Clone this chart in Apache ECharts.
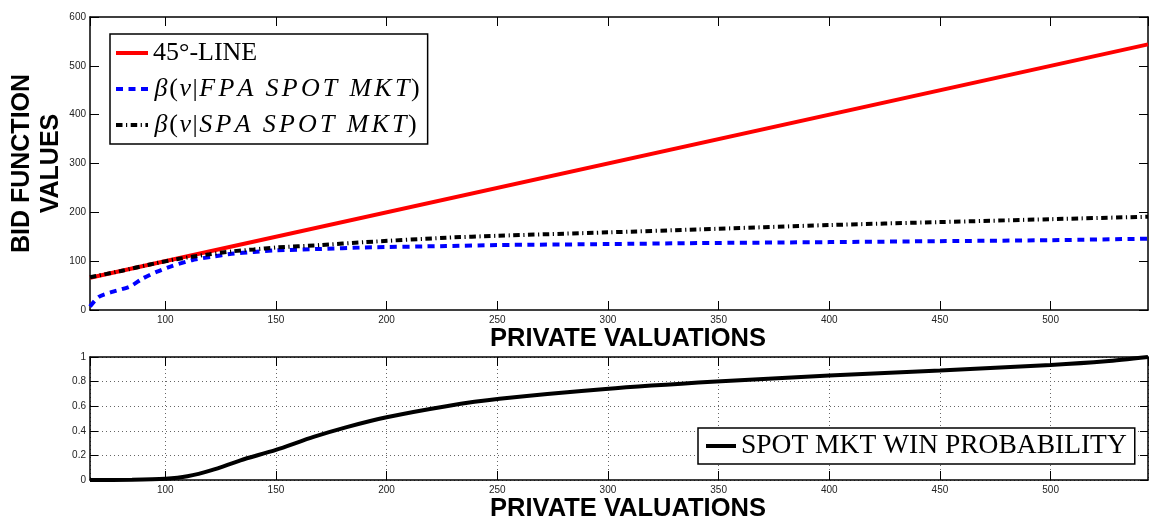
<!DOCTYPE html>
<html>
<head>
<meta charset="utf-8">
<script src="https://cdn.jsdelivr.net/npm/echarts@6.0.0/dist/echarts.min.js"></script>
<style>
  html, body { margin: 0; padding: 0; background: #fff; }
  #main { width: 1149px; height: 518px; }
</style>
</head>
<body>
<div id="main"></div>
<script>
// x range of both panels
const vMin = 66;
const vMax = 544;

// 45 degree line
const lineV   = [66, 544];
const lineBid = [66, 544];

// beta(v | FPA spot mkt)
const fpaV   = [66, 70, 76, 84, 90, 96, 103, 112, 121, 130, 140, 150, 170, 190, 227, 250, 300, 341, 400, 450, 500, 544];
const fpaBid = [7, 27, 37, 48, 65, 78, 90, 102, 109, 115, 119, 122, 125, 128, 131, 133, 135, 137, 139, 141, 143, 146];

// beta(v | SPA spot mkt)
const spaV   = [66, 80, 95, 105, 112, 120, 130, 140, 150, 170, 190, 227, 250, 300, 341, 400, 450, 500, 544];
const spaBid = [67, 80, 95, 104, 109, 114, 120, 124, 128, 133, 139, 148, 152, 159, 165, 174, 180, 186, 191];

// spot market win probability
const winV    = [66, 85, 100, 110, 121, 134, 150, 167, 182, 200, 227, 251, 299, 349, 400, 450, 500, 525, 544];
const winProb = [0, 0.002, 0.01, 0.03, 0.08, 0.16, 0.245, 0.35, 0.43, 0.51, 0.60, 0.66, 0.74, 0.80, 0.85, 0.89, 0.935, 0.965, 1.0];

const names = ['45°-LINE', 'β(v|FPA SPOT MKT)', 'β(v|SPA SPOT MKT)', 'SPOT MKT WIN PROBABILITY'];

function zip(xs, ys) {
  return xs.map((x, i) => [x, ys[i]]);
}

// legend text: math-style italic letters, upright brackets
function legendText(name) {
  if (name === names[0]) return '{r|' + name + '}';
  if (name === names[3]) return '{u|' + name + '}';
  let out = '';
  for (const c of name) {
    if ('()|'.indexOf(c) >= 0) out += '{r|' + c + '}';
    else if (c === ' ') out += '{sp| }';
    else out += '{i|' + c + '}';
  }
  return out;
}

const serif = '"Liberation Serif", "DejaVu Serif", serif';
const sans = '"Liberation Sans", Arial, sans-serif';

const legendRich = {
  r:  { fontFamily: serif, fontSize: 26, color: '#000' },
  u:  { fontFamily: serif, fontSize: 27.5, color: '#000' },
  i:  { fontFamily: serif, fontSize: 26, fontStyle: 'italic', color: '#000', padding: [0, 1.6, 0, 1.6] },
  sp: { fontFamily: serif, fontSize: 26, width: 9 }
};

const axisLine = { show: true, onZero: false, lineStyle: { color: '#000', width: 1.5 } };

function xAx(grid, pos, labels, name, gap, split) {
  return {
    type: 'value', gridIndex: grid, position: pos,
    min: vMin, max: vMax, splitNumber: 10, minInterval: 50, maxInterval: 50,
    axisLine: axisLine,
    axisTick: { show: true, inside: true, length: 9, lineStyle: { color: '#000', width: 1 } },
    axisLabel: { show: labels, showMinLabel: false, showMaxLabel: false, margin: 5,
                 fontFamily: sans, fontSize: 10, color: '#222' },
    splitLine: { show: split, lineStyle: { color: '#666', width: 1, type: [1, 3] } },
    name: name, nameLocation: 'middle', nameGap: gap, nameMoveOverlap: false,
    nameTextStyle: { fontFamily: sans, fontWeight: 'bold', fontSize: 25.5, color: '#000', padding: [0, 0, 0, 18] }
  };
}

function yAx(grid, pos, labels, max, interval, split, name) {
  return {
    type: 'value', gridIndex: grid, position: pos,
    min: 0, max: max, interval: interval,
    axisLine: axisLine,
    axisTick: { show: true, inside: true, length: grid === 0 ? 9 : 8, lineStyle: { color: '#000', width: 1 } },
    axisLabel: { show: labels, margin: 4, fontFamily: sans, fontSize: 10, color: '#222' },
    splitLine: { show: split, lineStyle: { color: '#666', width: 1, type: [1, 3] } },
    name: name || '', nameLocation: 'middle', nameRotate: 90, nameGap: 24, nameMoveOverlap: false,
    nameTextStyle: { fontFamily: sans, fontWeight: 'bold', fontSize: 25, lineHeight: 29, color: '#000' }
  };
}

const legendBase = {
  orient: 'vertical',
  backgroundColor: '#fff', borderColor: '#000', borderWidth: 1.5,
  itemStyle: { color: 'rgba(0,0,0,0)', borderWidth: 0 },
  lineStyle: { width: 4 },
  formatter: legendText,
  textStyle: { rich: legendRich }
};

const chart = echarts.init(document.getElementById('main'));
chart.setOption({
  animation: false,
  backgroundColor: '#fff',
  grid: [
    { left: 90, right: 1, top: 17, height: 293, outerBoundsMode: 'none', containLabel: false },
    { left: 90, right: 1, top: 357, height: 123, outerBoundsMode: 'none', containLabel: false }
  ],
  xAxis: [
    xAx(0, 'bottom', true, 'PRIVATE VALUATIONS', 16, false),
    xAx(0, 'top', false, '', 0, false),
    xAx(1, 'bottom', true, 'PRIVATE VALUATIONS', 16, true),
    xAx(1, 'top', false, '', 0, false)
  ],
  yAxis: [
    yAx(0, 'left', true, 600, 100, false, 'BID FUNCTION\nVALUES'),
    yAx(0, 'right', false, 600, 100, false),
    yAx(1, 'left', true, 1, 0.2, true),
    yAx(1, 'right', false, 1, 0.2, false)
  ],
  legend: [
    Object.assign({}, legendBase, {
      data: names.slice(0, 3),
      left: 110, top: 34,
      itemWidth: 32, itemHeight: 14, itemGap: 10,
      padding: [6, 8, 6, 4]
    }),
    Object.assign({}, legendBase, {
      data: [names[3]],
      left: 698, top: 428,
      itemWidth: 30, itemHeight: 14,
      padding: [4, 8, 4, 6]
    })
  ],
  series: [
    {
      name: names[0], type: 'line', xAxisIndex: 0, yAxisIndex: 0,
      symbol: 'none', color: '#ff0000',
      lineStyle: { width: 4, color: '#ff0000' },
      data: zip(lineV, lineBid)
    },
    {
      name: names[1], type: 'line', xAxisIndex: 0, yAxisIndex: 0,
      symbol: 'none', color: '#0000ff', smooth: 0.25,
      lineStyle: { width: 4, color: '#0000ff', type: [7, 5.5] },
      data: zip(fpaV, fpaBid)
    },
    {
      name: names[2], type: 'line', xAxisIndex: 0, yAxisIndex: 0,
      symbol: 'none', color: '#000', smooth: 0.25,
      lineStyle: { width: 4, color: '#000', type: [6.5, 3.5, 1.2, 3.5] },
      data: zip(spaV, spaBid)
    },
    {
      name: names[3], type: 'line', xAxisIndex: 2, yAxisIndex: 2,
      symbol: 'none', color: '#000', smooth: 0.25,
      lineStyle: { width: 4, color: '#000' },
      data: zip(winV, winProb)
    }
  ]
});
</script>
</body>
</html>
